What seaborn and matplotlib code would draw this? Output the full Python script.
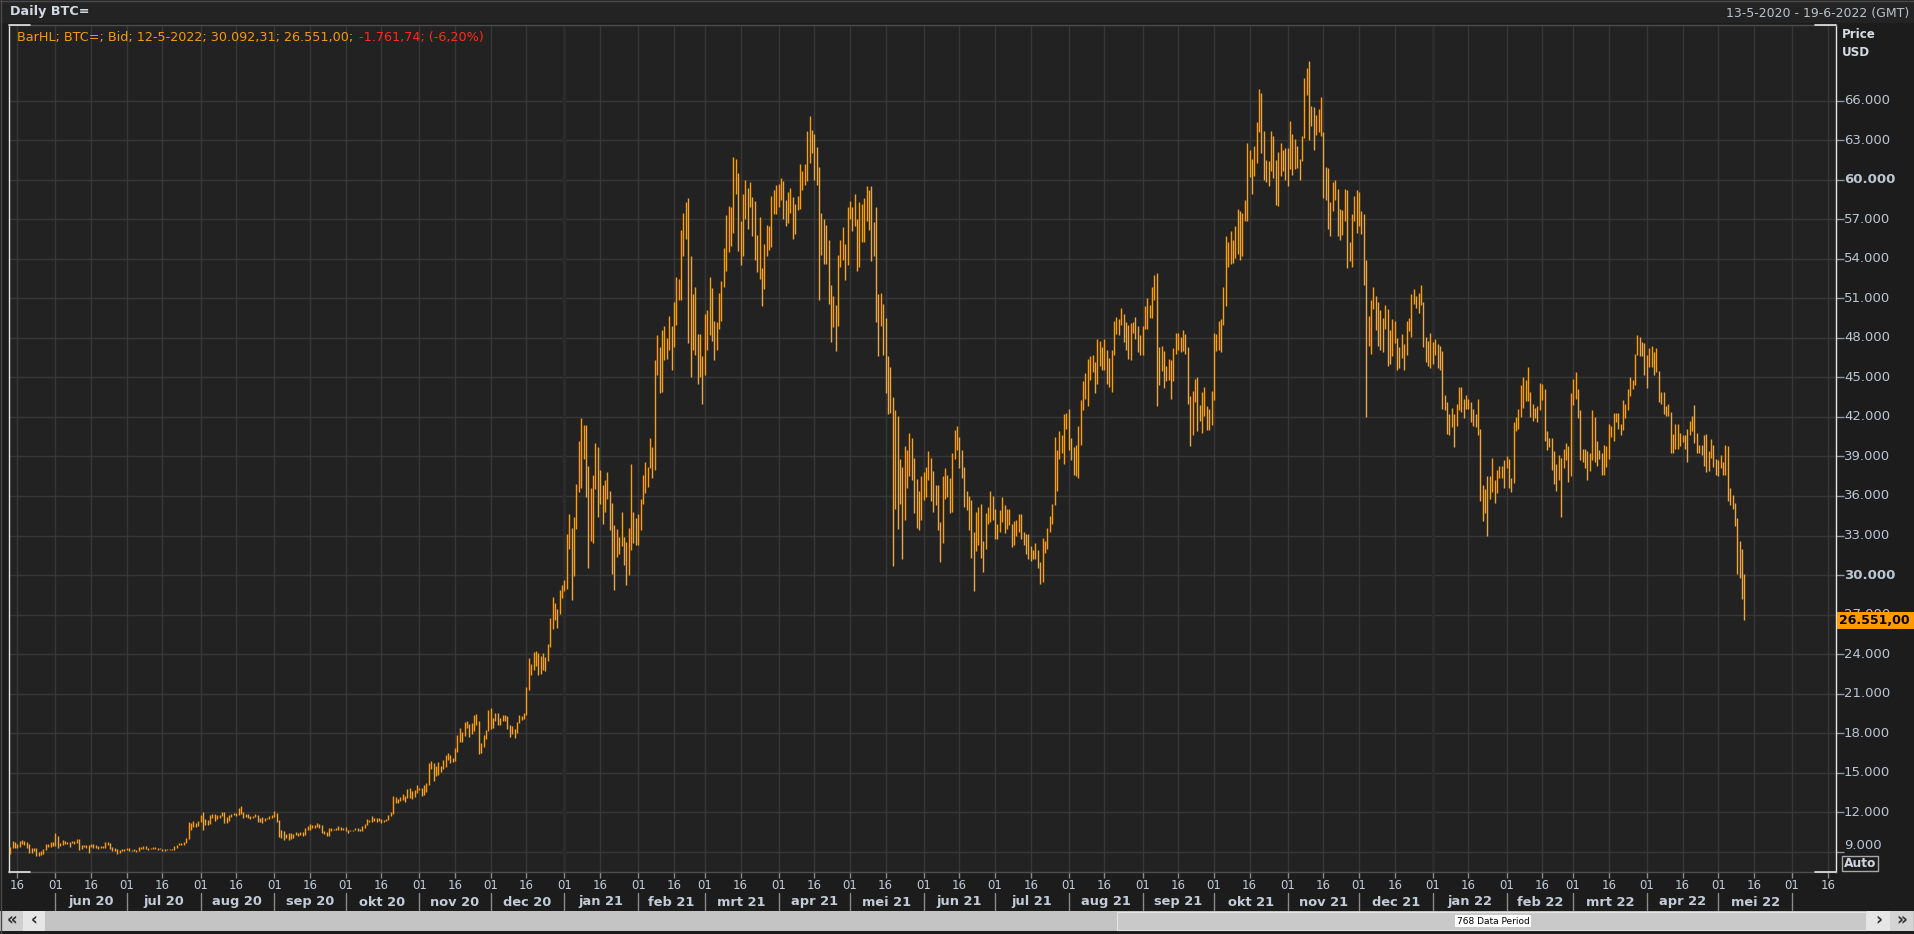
import numpy as np
import pandas as pd
import matplotlib
matplotlib.use('Agg')
import matplotlib.pyplot as plt
import matplotlib.dates as mdates
import matplotlib.transforms as mtrans
from matplotlib.patches import Rectangle
from matplotlib.lines import Line2D
import seaborn as sns

W, H = 1915, 934

first_day = '2020-05-13'
axis_end = '2022-06-19'

# daily high / low of BTC= bid, in thousands of USD (one line per month)
high = [
    9.32, 9.79, 9.76, 9.56, 9.82, 9.91, 9.84, 9.74, 9.56, 9.26, 9.30, 9.30, 8.98, 9.02, 9.22, 9.56, 9.61, 9.74, 9.70,
    10.43, 10.23, 9.68, 9.87, 9.85, 9.75, 9.77, 9.80, 9.80, 9.95, 9.95, 9.53, 9.51, 9.48, 9.50, 9.59, 9.56, 9.48, 9.45, 9.42, 9.41, 9.70, 9.70, 9.67, 9.33, 9.29, 9.20, 9.14, 9.23, 9.21,
    9.29, 9.27, 9.13, 9.18, 9.14, 9.37, 9.36, 9.45, 9.44, 9.31, 9.31, 9.34, 9.34, 9.27, 9.28, 9.23, 9.18, 9.20, 9.24, 9.22, 9.40, 9.53, 9.65, 9.63, 9.72, 10.05, 11.24, 11.19, 11.32, 11.20, 11.36,
    11.80, 12.04, 11.47, 11.41, 11.79, 11.90, 11.90, 11.79, 11.79, 12.05, 12.05, 11.60, 11.78, 11.90, 11.97, 11.93, 12.35, 12.45, 12.01, 11.88, 11.88, 11.69, 11.72, 11.83, 11.76, 11.53, 11.60, 11.55, 11.58, 11.71, 11.77,
    12.07, 11.95, 11.44, 10.62, 10.55, 10.35, 10.42, 10.44, 10.35, 10.50, 10.45, 10.47, 10.48, 10.78, 10.93, 11.10, 11.04, 11.05, 11.16, 11.07, 10.99, 10.55, 10.53, 10.77, 10.77, 10.75, 10.80, 10.93, 10.85, 10.81,
    10.89, 10.65, 10.64, 10.68, 10.82, 10.81, 10.70, 10.94, 11.10, 11.50, 11.42, 11.72, 11.56, 11.55, 11.57, 11.50, 11.39, 11.51, 11.79, 12.00, 13.20, 13.18, 13.02, 13.16, 13.35, 13.24, 13.76, 13.84, 13.61, 13.65, 14.03,
    13.87, 13.81, 14.06, 14.22, 15.75, 15.90, 15.77, 15.48, 15.83, 15.47, 15.94, 16.31, 16.48, 16.31, 16.14, 16.88, 17.86, 18.39, 18.08, 18.81, 18.95, 18.69, 18.74, 19.35, 19.42, 18.90, 17.28, 17.88, 18.24, 19.75,
    19.90, 19.18, 19.54, 19.50, 19.16, 19.36, 19.40, 19.29, 18.64, 18.55, 18.29, 18.82, 19.36, 19.30, 19.55, 21.50, 23.70, 23.23, 24.17, 24.25, 24.07, 23.82, 24.10, 23.78, 24.75, 26.72, 28.30, 27.90, 27.40, 28.90, 29.25,
    29.60, 33.15, 34.65, 33.60, 34.40, 36.90, 40.20, 41.90, 41.40, 41.40, 38.30, 36.60, 37.60, 40.00, 39.70, 38.00, 36.80, 37.20, 37.80, 36.40, 35.50, 33.80, 33.50, 32.90, 34.80, 32.90, 32.50, 33.60, 38.40, 34.80, 34.30,
    34.60, 35.80, 37.60, 38.60, 38.20, 40.40, 39.70, 46.30, 48.20, 47.30, 48.60, 48.90, 48.00, 49.70, 48.90, 50.70, 52.60, 52.50, 56.20, 57.50, 58.35, 58.60, 54.20, 51.30, 51.90, 48.30, 48.30, 46.60,
    49.80, 50.10, 52.60, 51.80, 49.30, 49.20, 51.40, 52.30, 54.80, 57.30, 58.00, 57.90, 61.70, 61.60, 60.50, 56.90, 58.90, 60.00, 59.40, 59.80, 58.70, 58.40, 55.80, 57.20, 53.30, 55.10, 56.60, 56.50, 58.80, 59.20, 59.60,
    59.70, 60.10, 59.90, 58.50, 59.10, 59.40, 58.70, 58.20, 58.80, 61.20, 60.70, 61.20, 63.70, 64.85, 63.80, 63.50, 62.50, 61.00, 57.50, 57.00, 56.60, 55.40, 52.00, 51.20, 50.50, 54.30, 55.40, 56.40, 55.10, 57.90,
    58.40, 57.90, 58.90, 57.00, 58.30, 58.20, 58.60, 59.50, 59.20, 59.50, 56.80, 57.90, 51.30, 51.40, 50.60, 49.50, 46.60, 45.80, 43.50, 42.50, 42.10, 38.80, 38.20, 39.80, 39.50, 40.80, 40.40, 38.90, 37.30, 36.40, 37.50,
    37.80, 38.20, 39.40, 38.90, 37.90, 36.80, 36.80, 34.00, 37.50, 38.10, 37.60, 37.40, 39.30, 41.00, 41.30, 40.50, 39.50, 38.20, 36.40, 36.00, 35.70, 33.30, 34.80, 35.20, 35.40, 32.60, 34.70, 35.20, 36.40, 36.00,
    35.00, 33.90, 34.90, 35.90, 35.30, 35.00, 35.00, 33.90, 34.10, 34.20, 34.60, 34.60, 33.30, 33.10, 33.10, 32.20, 31.90, 32.40, 31.90, 31.00, 32.80, 32.60, 33.60, 34.50, 35.40, 40.50, 39.50, 40.90, 40.60, 42.20, 42.30,
    42.60, 40.40, 39.70, 39.90, 41.30, 43.30, 44.70, 45.30, 46.40, 46.60, 46.70, 46.20, 47.90, 47.80, 47.30, 47.90, 47.10, 46.50, 47.10, 49.30, 49.60, 49.40, 50.30, 49.80, 49.20, 49.00, 49.10, 49.20, 49.60, 48.90, 48.20,
    48.90, 50.40, 51.00, 50.50, 51.90, 52.80, 52.90, 47.30, 47.40, 47.00, 45.90, 46.40, 46.30, 47.20, 48.40, 48.40, 48.10, 48.60, 48.30, 47.30, 43.60, 44.00, 44.90, 45.00, 42.90, 43.90, 44.30, 42.80, 42.60, 44.00,
    48.40, 48.30, 49.30, 49.40, 51.90, 55.70, 55.30, 56.10, 55.40, 56.50, 57.80, 57.60, 57.50, 58.50, 62.80, 62.30, 61.60, 62.60, 64.40, 66.90, 66.60, 63.70, 61.50, 61.40, 63.70, 63.30, 61.50, 62.10, 62.80, 62.30, 62.40,
    62.40, 64.50, 63.50, 63.10, 62.60, 61.60, 63.30, 67.70, 68.50, 69.00, 65.60, 65.50, 64.90, 65.40, 66.30, 63.60, 61.00, 60.90, 58.30, 59.80, 60.00, 59.30, 57.80, 57.70, 59.30, 59.20, 55.30, 57.40, 58.80, 59.20,
    59.10, 57.60, 57.40, 53.90, 49.70, 50.90, 51.90, 51.20, 50.70, 50.10, 49.50, 50.50, 50.20, 48.60, 49.40, 49.30, 48.00, 47.30, 48.30, 47.50, 49.30, 49.50, 51.30, 51.70, 51.20, 51.40, 52.00, 50.70, 48.10, 47.80, 48.40,
    47.70, 47.90, 47.50, 47.40, 47.00, 43.70, 43.10, 42.20, 42.70, 42.20, 43.00, 44.30, 44.30, 43.40, 43.70, 43.40, 43.10, 42.60, 42.20, 43.40, 41.10, 36.80, 36.50, 37.50, 37.50, 38.90, 37.20, 38.00, 38.30, 38.30, 38.70,
    39.00, 38.80, 37.40, 41.60, 42.00, 42.60, 44.40, 45.00, 44.80, 45.80, 43.90, 43.00, 42.70, 42.80, 44.60, 44.50, 44.10, 40.90, 40.40, 40.40, 39.40, 38.40, 39.10, 38.90, 39.60, 40.00, 39.80, 43.80,
    44.90, 45.40, 44.10, 42.50, 39.60, 39.60, 39.40, 39.30, 42.50, 42.00, 40.20, 39.50, 39.30, 39.90, 39.80, 41.50, 41.30, 42.30, 42.30, 42.30, 41.50, 43.30, 43.00, 44.10, 45.00, 44.80, 46.80, 48.20, 48.10, 47.70, 47.60,
    46.70, 47.20, 47.40, 46.90, 47.20, 45.50, 43.90, 43.90, 42.80, 43.00, 42.40, 40.70, 41.50, 41.50, 40.80, 40.60, 40.60, 41.10, 41.70, 42.10, 42.90, 40.80, 39.90, 39.90, 40.60, 40.70, 39.40, 40.30, 39.90, 38.80,
    38.70, 39.10, 38.60, 39.90, 39.80, 36.60, 36.10, 35.50, 34.30, 32.60, 32.00, 30.09231,
]
low = [
    8.81, 9.26, 9.26, 9.26, 9.35, 9.57, 9.54, 9.27, 8.92, 8.94, 9.09, 8.70, 8.64, 8.78, 8.83, 9.12, 9.33, 9.39, 9.42,
    9.42, 9.29, 9.43, 9.51, 9.58, 9.55, 9.38, 9.64, 9.56, 9.69, 9.12, 9.23, 9.37, 9.25, 8.90, 9.33, 9.26, 9.29, 9.21, 9.26, 9.27, 9.28, 9.54, 9.24, 9.08, 9.05, 8.85, 8.94, 9.07, 9.09,
    9.10, 9.02, 9.05, 9.06, 8.98, 9.06, 9.20, 9.23, 9.20, 9.12, 9.20, 9.18, 9.20, 9.13, 9.17, 9.08, 9.09, 9.11, 9.10, 9.14, 9.14, 9.28, 9.48, 9.49, 9.54, 9.65, 9.95, 10.65, 10.88, 10.85, 10.98,
    11.23, 10.65, 11.02, 11.01, 11.10, 11.59, 11.36, 11.52, 11.53, 11.68, 11.15, 11.17, 11.30, 11.65, 11.78, 11.70, 11.80, 11.86, 11.59, 11.62, 11.53, 11.51, 11.56, 11.65, 11.24, 11.29, 11.18, 11.30, 11.46, 11.47, 11.56,
    11.64, 11.22, 10.08, 10.01, 9.88, 10.05, 9.89, 9.98, 10.03, 10.24, 10.23, 10.28, 10.22, 10.29, 10.66, 10.66, 10.80, 10.81, 10.89, 10.82, 10.40, 10.37, 10.16, 10.22, 10.57, 10.64, 10.62, 10.67, 10.65, 10.64,
    10.56, 10.44, 10.55, 10.54, 10.64, 10.54, 10.56, 10.55, 10.80, 11.06, 11.24, 11.24, 11.34, 11.29, 11.30, 11.19, 11.26, 11.33, 11.42, 11.70, 11.90, 12.72, 12.72, 12.86, 12.91, 12.80, 13.06, 13.09, 12.98, 13.13, 13.43,
    13.66, 13.24, 13.30, 13.54, 14.09, 15.25, 14.40, 14.72, 14.80, 15.07, 15.29, 15.44, 15.99, 15.71, 15.80, 15.87, 16.57, 17.35, 17.33, 17.76, 18.39, 17.68, 17.92, 18.20, 18.62, 16.40, 16.48, 16.93, 17.56, 18.19,
    18.33, 18.36, 18.90, 18.60, 18.63, 18.93, 18.90, 18.33, 17.68, 17.91, 17.63, 17.99, 18.75, 19.00, 19.05, 19.40, 21.25, 22.38, 22.80, 23.08, 22.40, 22.46, 22.78, 22.72, 23.45, 24.52, 25.92, 26.56, 25.99, 27.05, 28.24,
    28.80, 28.95, 32.00, 28.10, 29.95, 33.50, 36.30, 36.60, 38.80, 35.90, 30.50, 32.60, 32.40, 36.50, 34.40, 35.40, 33.90, 34.80, 35.80, 33.40, 30.10, 28.90, 31.40, 31.60, 32.20, 30.80, 29.25, 30.00, 31.90, 32.40, 32.30,
    32.30, 33.40, 35.40, 36.20, 36.70, 38.10, 37.40, 38.00, 45.20, 43.80, 43.90, 46.30, 46.40, 47.10, 45.60, 47.30, 49.00, 50.90, 50.90, 54.20, 55.50, 47.60, 45.00, 47.10, 46.70, 44.50, 45.00, 43.00,
    45.20, 47.10, 48.20, 47.80, 46.30, 47.10, 48.70, 49.30, 51.90, 53.10, 54.50, 55.00, 56.00, 58.90, 54.60, 53.50, 54.20, 57.00, 56.30, 57.90, 55.70, 53.90, 53.00, 52.50, 50.40, 51.70, 54.20, 54.70, 54.90, 57.40, 57.40,
    57.90, 58.50, 57.00, 56.50, 56.70, 57.50, 55.50, 55.90, 57.70, 57.80, 59.20, 59.60, 59.90, 61.30, 62.00, 60.00, 59.60, 50.90, 54.30, 53.60, 53.60, 50.60, 47.70, 48.80, 47.00, 48.90, 53.40, 53.90, 52.40, 53.50,
    57.00, 56.10, 56.50, 53.10, 53.40, 55.30, 55.30, 56.90, 56.20, 53.80, 54.20, 49.20, 46.60, 48.90, 46.70, 43.80, 42.20, 42.30, 30.70, 35.00, 33.50, 35.40, 31.20, 34.20, 36.60, 37.50, 37.20, 34.70, 33.60, 33.40, 34.20,
    35.70, 35.90, 37.20, 35.60, 34.80, 35.30, 33.40, 31.00, 32.40, 35.80, 35.90, 34.70, 34.80, 38.80, 39.50, 38.10, 37.40, 35.20, 34.90, 33.40, 31.30, 28.80, 31.80, 32.30, 31.30, 30.20, 32.00, 33.90, 34.00, 34.20,
    32.70, 32.70, 33.30, 34.00, 33.20, 33.50, 33.80, 32.10, 32.30, 33.00, 33.30, 32.70, 32.30, 31.60, 31.20, 31.10, 31.20, 31.20, 30.50, 29.30, 29.50, 31.70, 32.00, 33.30, 33.90, 35.30, 36.40, 38.80, 39.30, 38.40, 41.10,
    39.50, 38.70, 37.60, 37.50, 37.40, 39.90, 42.50, 43.40, 42.80, 44.80, 45.40, 43.80, 44.50, 45.90, 45.60, 45.60, 44.50, 44.30, 43.90, 46.70, 48.30, 48.20, 49.00, 47.70, 47.10, 46.40, 46.30, 48.40, 47.90, 46.90, 46.70,
    46.70, 48.70, 48.70, 49.50, 49.50, 50.90, 42.80, 44.40, 45.50, 44.20, 44.70, 44.80, 43.40, 44.70, 46.80, 47.10, 46.90, 47.00, 46.80, 43.00, 39.80, 40.60, 43.10, 40.90, 41.70, 40.80, 42.10, 41.00, 41.00, 41.40,
    43.30, 47.00, 47.10, 46.90, 49.00, 50.40, 53.40, 53.60, 53.70, 54.10, 54.40, 53.90, 54.20, 56.90, 56.90, 60.20, 58.90, 60.30, 61.30, 63.60, 62.00, 60.00, 59.80, 59.50, 60.70, 60.10, 58.10, 58.00, 60.30, 60.70, 60.00,
    59.50, 60.80, 60.40, 60.80, 60.90, 60.00, 61.40, 63.20, 66.40, 63.00, 64.10, 62.30, 63.40, 63.60, 63.30, 58.60, 58.50, 56.30, 55.70, 57.60, 58.50, 55.70, 55.40, 55.80, 56.90, 53.30, 53.80, 53.40, 56.90, 56.00,
    56.50, 55.90, 52.00, 42.00, 47.40, 46.80, 50.20, 48.60, 47.40, 47.10, 46.90, 48.70, 45.90, 46.00, 46.60, 47.60, 45.60, 45.70, 46.50, 45.60, 46.70, 48.50, 48.10, 50.60, 50.30, 49.90, 50.50, 47.30, 46.20, 45.90, 45.70,
    46.00, 46.70, 45.70, 45.60, 42.60, 42.50, 40.70, 40.60, 41.20, 39.70, 41.30, 42.50, 42.40, 41.90, 42.60, 42.60, 41.60, 41.30, 41.20, 40.60, 35.60, 34.10, 34.70, 33.00, 35.80, 36.30, 35.50, 36.20, 37.40, 37.40, 36.60,
    38.10, 36.60, 36.30, 37.00, 40.90, 41.10, 42.00, 42.70, 43.20, 43.20, 42.00, 41.70, 41.90, 41.60, 42.50, 43.30, 40.20, 39.50, 39.70, 38.00, 36.90, 36.40, 37.20, 34.40, 38.10, 38.70, 37.10, 37.50,
    42.90, 43.40, 41.90, 38.70, 38.60, 38.10, 37.20, 37.90, 38.70, 38.60, 38.30, 38.80, 37.60, 37.60, 38.20, 38.80, 40.50, 40.20, 41.60, 41.10, 40.60, 41.00, 41.90, 42.50, 43.60, 44.10, 44.40, 46.70, 46.60, 46.60, 45.20,
    44.20, 45.80, 45.80, 45.20, 45.40, 43.10, 43.00, 42.20, 42.10, 42.10, 39.30, 39.30, 39.60, 39.60, 39.80, 40.10, 39.60, 38.60, 40.60, 40.90, 40.00, 39.30, 39.30, 39.10, 38.30, 37.80, 37.90, 38.90, 38.20, 37.60,
    37.50, 38.10, 37.60, 37.60, 35.60, 35.30, 35.00, 33.70, 30.10, 29.80, 28.20, 26.551,
]

last_change = -1761.74
last_change_pct = -6.20

price_ticks = list(range(9000, 66001, 3000))
bold_ticks = [30000, 60000]
price_range = (7460, 71750)
month_names = ['jan', 'feb', 'mrt', 'apr', 'mei', 'jun', 'jul', 'aug', 'sep', 'okt', 'nov', 'dec']

sns.set_theme(style='dark')
plt.rcParams['font.family'] = ['DejaVu Sans']

BG = '#1c1c1c'
PLOT_BG = '#222222'
GRID = '#373737'
TXT = '#c3ccd8'
ORANGE = '#ff9d00'
PALE = '#eda63e'


def fx(px):
    return px / W


def fy(py):
    return 1 - py / H


def nl(v):
    # dutch number format 26.551,00
    return f"{v:,.2f}".replace(',', 'X').replace('.', ',').replace('X', '.')


dates = pd.date_range(first_day, periods=len(high), freq='D')
xs = mdates.date2num(dates)
hi = np.array(high) * 1000
lo = np.array(low) * 1000
mid = (hi + lo) / 2
up = np.r_[True, mid[1:] >= mid[:-1]]
colors = np.where(up, ORANGE, PALE)

fig = plt.figure(figsize=(W / 100, H / 100), dpi=100, facecolor=BG)
ax = fig.add_axes([fx(9), fy(872), (1836 - 9) / W, (872 - 25) / H], facecolor=PLOT_BG)

start = pd.Timestamp(first_day)
end = pd.Timestamp(axis_end)
ax.set_xlim(mdates.date2num(start) - 0.5, mdates.date2num(end) + 0.5)
ax.set_ylim(*price_range)

# grid: every 1st and 16th, every 3000 USD
day_ticks = [d for d in pd.date_range(start, end) if d.day in (1, 16)]
ax.set_xticks(mdates.date2num(day_ticks))
ax.set_xticklabels([f'{d.day:02d}' for d in day_ticks])
ax.set_yticks(price_ticks)
ax.grid(True, color=GRID, linewidth=1.0)
ax.set_axisbelow(True)
ax.tick_params(axis='x', bottom=True, length=4, width=1, color='#8a8a8a', direction='out',
               labelsize=8.5, labelcolor=TXT, pad=1)
ax.tick_params(axis='y', left=False, right=True, labelleft=False, labelright=False,
               length=6, width=1, color='#8c96a3', direction='out')
for yr in pd.date_range(start, end, freq='YS'):
    ax.axvline(mdates.date2num(yr), color='#2b2b2b', lw=2.4, zorder=0.8)

# the bars
ax.vlines(xs, lo, hi, colors=colors, linewidth=1.0, zorder=3)

for s in ['top', 'bottom']:
    ax.spines[s].set_color('#4d4d4d')
    ax.spines[s].set_linewidth(1)
for s in ['left', 'right']:
    ax.spines[s].set_color('#e6e6e6')
    ax.spines[s].set_linewidth(1)
cw = 21 / (1836 - 9)
for xa in [(0, cw), (1 - cw, 1)]:
    for ya in [0, 1]:
        ax.add_line(Line2D(xa, [ya, ya], transform=ax.transAxes, color='#e6e6e6', lw=1.2, clip_on=False, zorder=5))

# month row under the day ticks
xfig = mtrans.blended_transform_factory(ax.transData, fig.transFigure)
month_starts = pd.date_range('2020-06-01', '2022-06-01', freq='MS')
for m0, m1 in zip(month_starts[:-1], month_starts[1:]):
    xm = (mdates.date2num(m0) + mdates.date2num(m1)) / 2
    ax.text(xm, fy(902), f'{month_names[m0.month - 1]} {m0.year % 100:02d}', transform=xfig,
            ha='center', va='center', fontsize=9.4, fontweight='bold', color=TXT, clip_on=False)
for m0 in month_starts:
    ax.add_line(Line2D([mdates.date2num(m0)] * 2, [fy(893), fy(910)], transform=xfig,
                       color='#8a8a8a', lw=1, clip_on=False))

# price labels on the right
yfig = mtrans.blended_transform_factory(fig.transFigure, ax.transData)
for v in price_ticks:
    fig.text(fx(1844), v, f'{v:,}'.replace(',', '.'), transform=yfig, fontsize=9.5, color='#bcc6d3',
             va='bottom' if v == price_ticks[0] else 'center', ha='left',
             fontweight='bold' if v in bold_ticks else 'normal', zorder=3)
box_h = 1290
fig.add_artist(Rectangle((fx(1837), lo[-1] - box_h / 2), (W - 1837) / W, box_h, transform=yfig,
                         facecolor='#ff9a00', edgecolor='none', zorder=5))
fig.text(fx(1839), lo[-1], nl(lo[-1]), transform=yfig, fontsize=9, fontweight='bold',
         color='black', va='center', ha='left', zorder=6)
fig.text(fx(1842), fy(34), 'Price', fontsize=8.6, fontweight='bold', color='#d5dbe3', va='center')
fig.text(fx(1842), fy(53), 'USD', fontsize=8.6, fontweight='bold', color='#d5dbe3', va='center')
fig.text(fx(1860), fy(863.5), 'Auto', ha='center', va='center', fontsize=8.8, fontweight='bold',
         color='#d0d6de', bbox=dict(facecolor=BG, edgecolor='#a8a8a8', boxstyle='square,pad=0.12', lw=1))

# header
fig.add_artist(Rectangle((0, fy(23)), 1, 23 / H, transform=fig.transFigure, facecolor='#232323',
                         edgecolor='none', zorder=0))
fig.add_artist(Line2D([0, 1], [fy(1), fy(1)], transform=fig.transFigure, color='#4a4a4a', lw=1))
fig.add_artist(Line2D([fx(1.5), fx(1.5)], [fy(0), fy(934)], transform=fig.transFigure, color='#4a4a4a', lw=1))
fig.text(fx(10), fy(12), 'Daily BTC=', fontsize=9.2, fontweight='bold', color='#d2d9e2', va='center')
fig.text(fx(1909), fy(13), f'{start.day}-{start.month}-{start.year} - {end.day}-{end.month}-{end.year} (GMT)',
         ha='right', va='center', fontsize=9, color='#b9c3cf')

leg1 = f'BarHL; BTC=; Bid; {dates[-1].day}-{dates[-1].month}-{dates[-1].year}; {nl(hi[-1])}; {nl(lo[-1])};'
leg2 = f'{nl(last_change)}; (' + f'{last_change_pct:.2f}'.replace('.', ',') + '%)'
t1 = fig.text(fx(17), fy(37), leg1, color='#f39a12', fontsize=9.2, va='center', zorder=6)
ax.annotate(leg2, xy=(1, 0.5), xycoords=t1, xytext=(4, 0), textcoords='offset points',
            va='center', ha='left', color='#ff2a1a', fontsize=9.2, zorder=6)

# scroll bar
n_periods = (end - start).days + 1
fig.add_artist(Rectangle((0, fy(931)), 1, 20 / H, transform=fig.transFigure, facecolor='#c4c4c4', edgecolor='none'))
fig.add_artist(Rectangle((fx(1117), fy(930)), (1866 - 1117) / W, 18 / H, transform=fig.transFigure,
                         facecolor='#c9c9c9', edgecolor='#e4e4e4', lw=0.8))
for (a, b, c, ch) in [(2, 23, '#cfcfcf', '«'), (23, 45, '#e6e6e6', '‹'),
                      (1867, 1890, '#e6e6e6', '›'), (1890, 1913, '#d4d4d4', '»')]:
    fig.add_artist(Rectangle((fx(a), fy(931)), (b - a) / W, 20 / H, transform=fig.transFigure,
                             facecolor=c, edgecolor='none'))
    fig.text(fx((a + b) / 2), fy(920), ch, ha='center', va='center', fontsize=12,
             fontweight='bold', color='#303030')
fig.text(fx(1493), fy(921), f'{n_periods} Data Period', ha='center', va='center', fontsize=6.5,
         color='black', bbox=dict(facecolor='white', edgecolor='none', pad=1))

fig.savefig('out.png', dpi=100, facecolor=fig.get_facecolor())
